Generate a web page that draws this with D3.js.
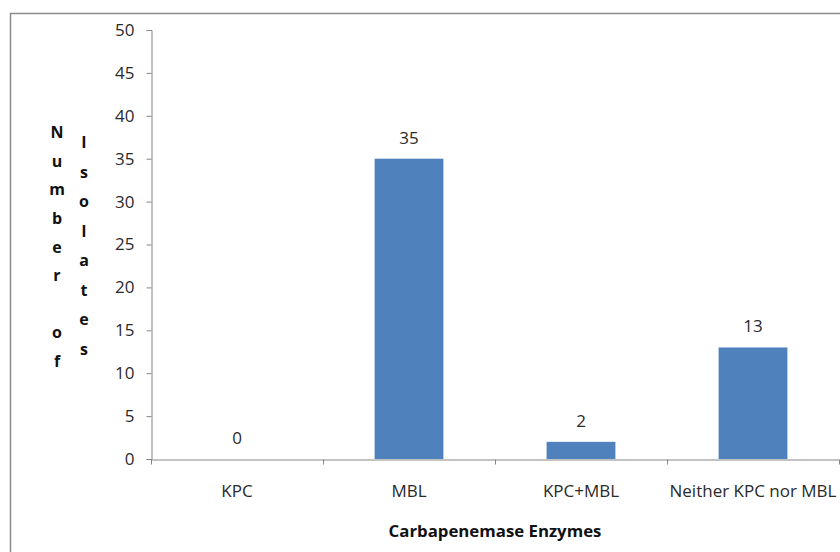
<!DOCTYPE html>
<html><head><meta charset="utf-8">
<script src="https://cdn.jsdelivr.net/npm/d3@7"></script>
<style>body{margin:0;background:#fff}svg{display:block}</style>
</head><body>
<svg id="c" width="840" height="552"></svg>
<script>
const categories = ["KPC", "MBL", "KPC+MBL", "Neither KPC nor MBL"];
const values = [0, 35, 2, 13];
const yTicks = [0, 5, 10, 15, 20, 25, 30, 35, 40, 45, 50];
const xTitle = "Carbapenemase Enzymes";
const yTitleCol1 = "Number of";
const yTitleCol2 = "Isolates";

const svg = d3.select("#c");
const font = "'Open Sans', 'Noto Sans', sans-serif";
const plot = {left: 151, right: 839, top: 30, bottom: 459};

// frame
svg.append("rect").attr("x", 10.5).attr("y", 13.5).attr("width", 840).attr("height", 600)
  .attr("fill", "none").attr("stroke", "#8c8c8c").attr("stroke-width", 1.5);

const x = d3.scaleBand().domain(categories).range([plot.left, plot.right]).paddingInner(0.6).paddingOuter(0.3);
const xb = d3.scaleBand().domain(categories).range([plot.left, plot.right]);
const y = d3.scaleLinear().domain([0, 50]).range([plot.bottom, plot.top]);

// y axis
const yAxis = svg.append("g").attr("transform", `translate(${plot.left + 0.5},0)`)
  .call(d3.axisLeft(y).tickValues(yTicks).tickSize(5).tickPadding(12));
yAxis.select(".domain").attr("stroke", "#868686");
yAxis.selectAll(".tick line").attr("stroke", "#868686");
yAxis.selectAll("text").attr("font-family", font).attr("font-size", 17).attr("fill", "#2a2a2a");

// x axis
const xAxis = svg.append("g").attr("transform", `translate(0,${plot.bottom + 0.5})`)
  .call(d3.axisBottom(xb).tickSize(0).tickPadding(25));
xAxis.select(".domain").attr("stroke", "#868686");
xAxis.selectAll("text").attr("font-family", font).attr("font-size", 17).attr("fill", "#2a2a2a");
// category boundary ticks
const bounds = categories.map(c => xb(c)).concat([plot.right]);
xAxis.selectAll(".btick").data(bounds).enter().append("line")
  .attr("x1", d => Math.round(d) + 0.5).attr("x2", d => Math.round(d) + 0.5)
  .attr("y1", 0).attr("y2", 5).attr("stroke", "#868686");

// bars
svg.selectAll(".bar").data(values).enter().append("rect")
  .attr("x", (d, i) => x(categories[i]))
  .attr("width", x.bandwidth())
  .attr("y", d => y(d))
  .attr("height", d => plot.bottom - y(d))
  .attr("fill", "#4F81BD");

// value labels
svg.selectAll(".lbl").data(values).enter().append("text")
  .attr("x", (d, i) => xb(categories[i]) + xb.bandwidth() / 2)
  .attr("y", d => y(d) - 15)
  .attr("text-anchor", "middle")
  .attr("font-family", font).attr("font-size", 17).attr("fill", "#2a2a2a")
  .text(d => d);

// x title
svg.append("text").attr("x", 495).attr("y", 537).attr("text-anchor", "middle")
  .attr("font-family", font).attr("font-size", 16.8).attr("font-weight", "bold").attr("fill", "#111")
  .text(xTitle);

// y title: stacked letters in two columns
function stacked(str, cx, cy, lh) {
  const chars = str.split("");
  const t = svg.append("text").attr("font-family", font).attr("font-size", 16)
    .attr("font-weight", "bold").attr("fill", "#111").attr("text-anchor", "middle");
  const start = cy - (chars.length - 1) * lh / 2;
  chars.forEach((ch, i) => {
    t.append("tspan").attr("x", cx).attr("y", start + i * lh + 5).text(ch === " " ? "\u00a0" : ch);
  });
}
stacked(yTitleCol1, 57, 247.5, 28.6);
stacked(yTitleCol2, 84, 246.5, 29.5);
</script>
</body></html>
